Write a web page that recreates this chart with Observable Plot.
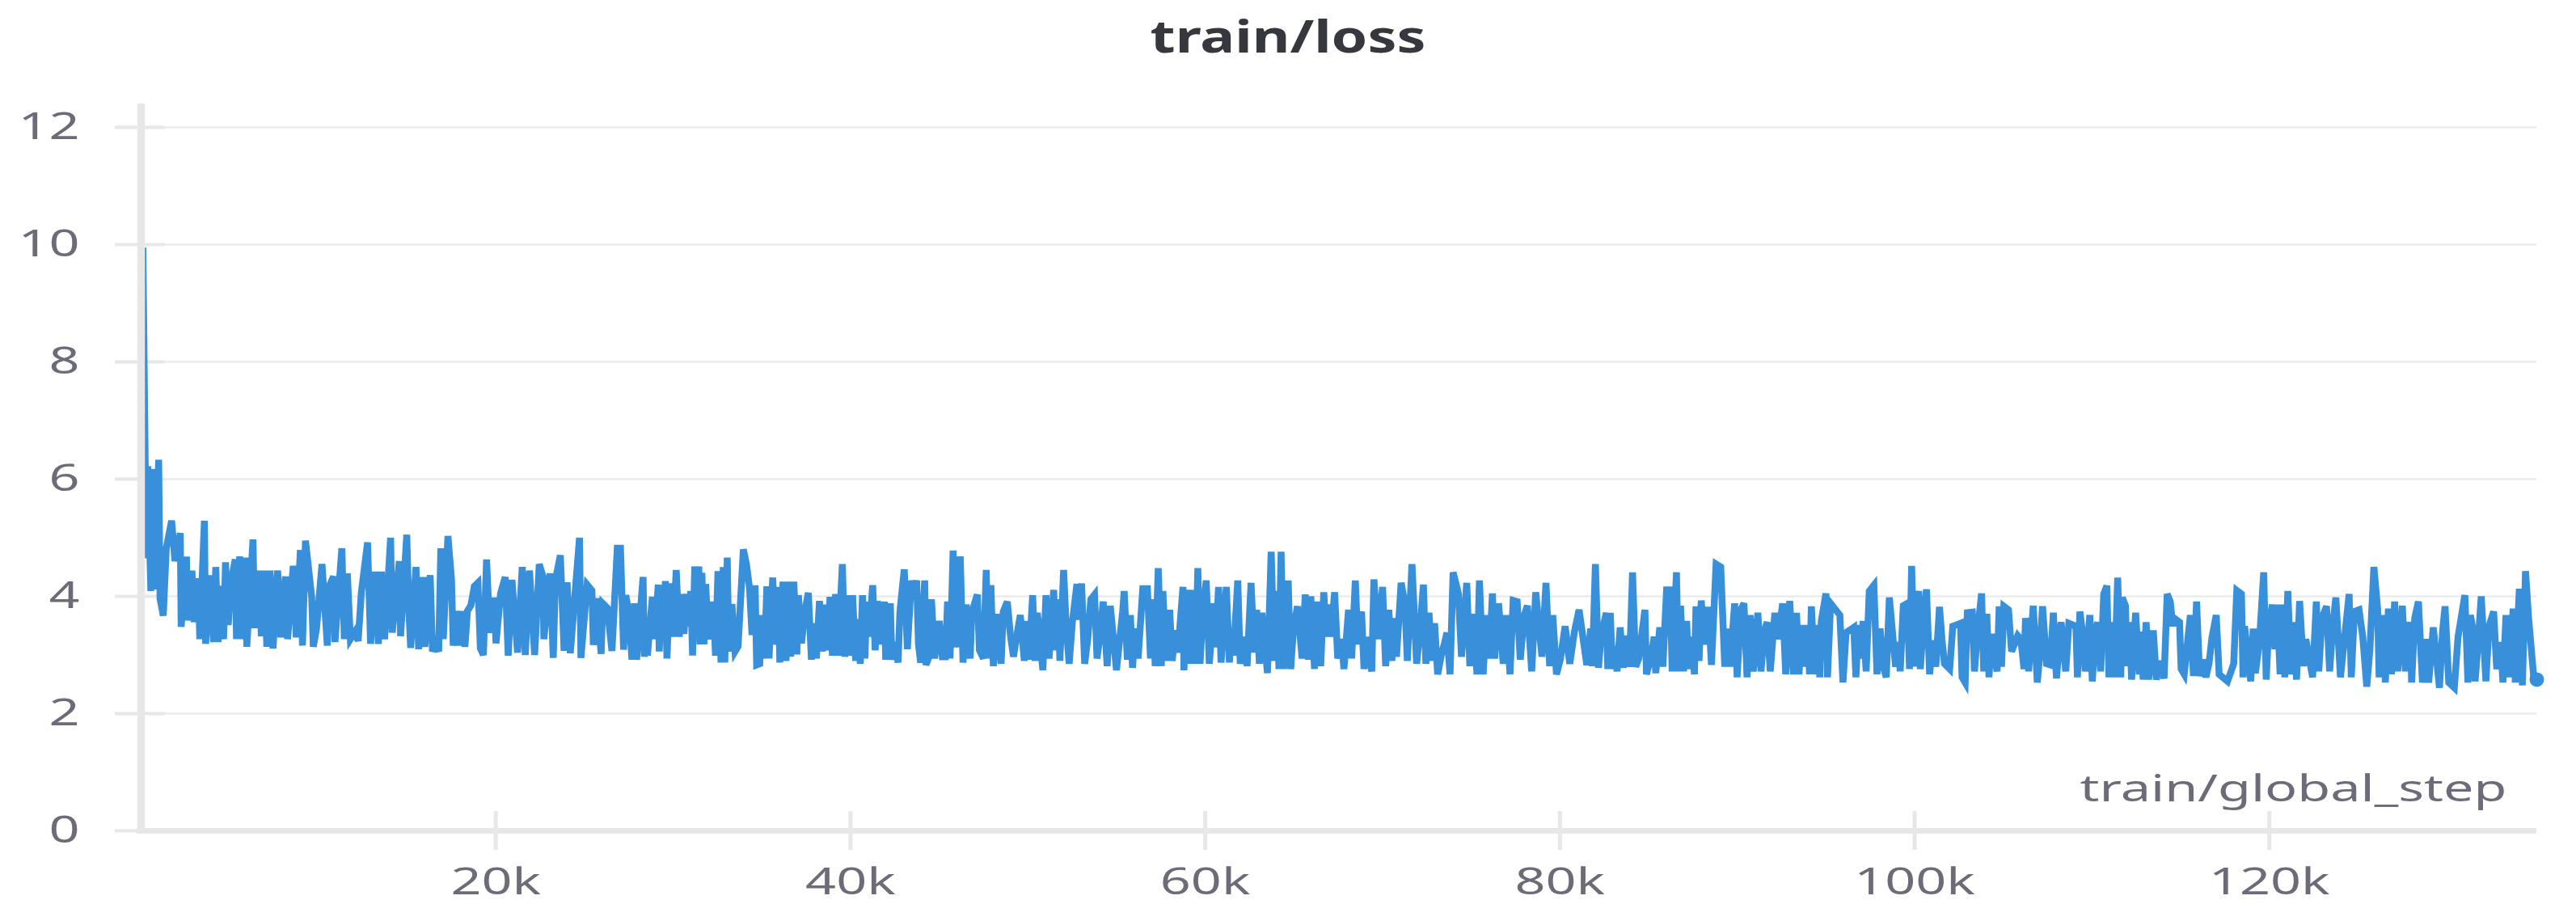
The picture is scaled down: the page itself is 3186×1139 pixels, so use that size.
<!DOCTYPE html>
<html>
<head>
<meta charset="utf-8">
<script src="https://cdn.jsdelivr.net/npm/d3@7"></script>
<script src="https://cdn.jsdelivr.net/npm/@observablehq/plot@0.6"></script>
<style>
html, body { margin: 0; padding: 0; background: #fff; }
#wrap { position: relative; width: 3186px; height: 1139px; overflow: hidden; background: #fff; }
#title { position: absolute; left: 0; top: 0; width: 3186px; height: 100px; }
#title span { position: absolute; left: 1593px; top: 15px; font-family: "Noto Sans", sans-serif; font-weight: 700; font-size: 56px; line-height: 1; color: #36383d; white-space: nowrap; transform-origin: 50% 50%; }
#chart { position: absolute; left: 0; top: 100px; }
</style>
</head>
<body>
<div id="wrap">
  <div id="title"><span>train/loss</span></div>
  <div id="chart"></div>
</div>
<script>
const titleText = "train/loss";
const axisLabel = "train/global_step";
const yTicks = [0, 2, 4, 6, 8, 10, 12];
const xTicks = [20000, 40000, 60000, 80000, 100000, 120000];
const xTickLabels = ["20k", "40k", "60k", "80k", "100k", "120k"];

// [train/global_step, train/loss], segment by segment
const loss0to27k = [
[100,9.95],[290,4.65],[375,6.22],[550,4.09],[670,6.17],[780,4.12],[990,6.33],[1070,3.96],[1250,3.67],[1420,4.82],
[1720,5.29],[1910,4.60],[2210,5.08],[2260,3.48],[2560,4.68],[2590,3.59],[2870,4.44],[2990,3.56],[3220,4.31],[3310,3.27],
[3570,5.29],[3640,3.19],[3870,4.36],[4090,3.22],[4210,4.50],[4340,3.22],[4480,4.18],[4650,3.27],[4760,4.58],[4910,3.51],
[5090,4.28],[5310,4.63],[5380,3.27],[5560,4.68],[5660,3.27],[5870,4.66],[5960,3.14],[6310,4.97],[6400,3.46],[6660,4.44],
[6780,3.32],[6950,4.44],[7090,3.14],[7270,4.44],[7440,3.11],[7700,4.44],[7880,3.30],[8140,4.34],[8260,3.27],[8580,4.52],
[8750,3.30],[8980,4.79],[9100,3.16],[9270,4.95],[9620,3.99],[9710,3.14],[9890,3.45],[10200,4.55],[10500,3.16],[10620,4.18],
[10850,4.34],[10930,3.22],[11320,4.82],[11460,3.27],[11630,4.39],[11800,3.27],[12070,3.40],[12240,3.24],[12420,4.07],[12770,4.92],
[12940,3.19],[13200,4.42],[13380,3.19],[13550,4.42],[13730,3.27],[14070,5.00],[14160,3.38],[14560,4.60],[14630,3.32],[14980,5.05],
[15090,3.83],[15200,3.12],[15500,4.50],[15650,3.10],[15900,4.33],[16000,3.14],[16300,4.36],[16430,3.06],[16600,3.18],[16780,3.06],
[16900,4.82],[17040,3.27],[17300,5.03],[17500,4.30],[17600,3.16],[17820,3.75],[18000,3.16],[18090,3.75],[18260,3.14],[18400,3.75],
[18600,3.85],[18790,4.17],[18990,4.23],[19130,3.11],[19300,3.00],[19480,4.63],[19660,3.38],[19920,3.98],[20010,3.20],[20270,4.05],
[20530,4.33],[20700,2.99],[20910,4.28],[21230,3.04],[21490,4.50],[21660,3.00],[21900,4.44],[22190,3.00],[22450,4.55],[22660,4.34],
[22710,3.27],[23060,4.39],[23240,2.95],[23360,4.28],[23640,4.70],[23850,3.07],[24020,4.24],[24200,3.03],[24720,5.00],[24800,2.95],
[25150,4.20],[25420,4.10],[25500,3.17],[25680,3.97],[25940,3.02],[26030,3.88],[26290,3.80],[26550,3.07],[26850,4.82]
];
const loss27to54k = [
[27030,4.82],[27206,3.09],[27328,4.02],[27502,3.72],[27677,2.92],[27816,3.88],[27939,2.92],[28305,4.33],[28375,2.97],[28480,3.54],
[28549,2.99],[28828,3.99],[28950,3.27],[29160,4.20],[29212,3.06],[29387,4.13],[29474,3.27],[29561,4.26],[29648,2.94],[29823,4.22],
[29997,3.31],[30172,4.45],[30346,3.31],[30521,4.04],[30608,3.36],[30748,4.04],[30870,3.49],[30992,4.09],[31096,2.99],[31218,4.51],
[31341,3.60],[31445,4.51],[31515,3.18],[31620,4.40],[31742,3.18],[31829,4.21],[32004,3.27],[32265,3.91],[32387,2.99],[32527,4.43],
[32701,2.87],[32824,4.50],[32911,2.87],[33050,4.66],[33138,3.06],[33312,3.87],[33487,3.06],[33661,3.15],[33958,4.80],[34132,4.55],
[34307,4.14],[34447,3.34],[34621,4.19],[34708,2.83],[34883,2.85],[34970,3.68],[35144,2.94],[35284,4.17],[35406,2.94],[35615,4.32],
[35720,3.52],[35842,3.18],[35929,4.16],[36016,2.87],[36191,4.25],[36365,2.90],[36505,4.25],[36627,2.97],[36802,4.25],[36976,3.01],
[37063,4.02],[37238,3.20],[37412,3.72],[37622,4.06],[37796,2.92],[37936,3.54],[38075,2.94],[38250,3.92],[38424,3.06],[38546,3.86],
[38721,3.08],[38843,3.99],[38982,2.99],[39157,4.04],[39296,2.99],[39541,4.55],[39680,2.97],[39855,4.02],[39995,2.99],[40117,4.02],
[40291,2.90],[40378,3.61],[40553,2.85],[40675,4.02],[40815,2.94],[40902,3.91],[41041,3.31],[41251,4.19],[41390,3.08],[41512,3.92],
[41739,3.18],[41914,3.91],[41983,2.92],[42245,3.88],[42332,2.92],[42507,3.22],[42681,2.87],[42786,3.74],[43030,4.46],[43205,3.10],
[43431,4.27],[43550,4.05],[43728,4.27],[43833,3.18],[43955,2.87],[44182,4.27],[44251,2.83],[44391,2.94],[44565,3.95],[44740,2.94],
[45002,3.58],[45176,2.97],[45351,2.97],[45473,3.91],[45613,2.94],[45787,4.78],[45927,3.13],[46188,4.68],[46345,2.87],[46520,3.86],
[46747,2.94],[46834,3.72],[47148,4.03],[47270,3.08],[47497,2.94],[47654,4.45],[47741,2.94],[47915,4.19],[48055,2.81],[48264,3.70],
[48491,2.85],[48613,3.74],[48840,3.91],[49015,3.34],[49189,2.97],[49364,3.31],[49573,3.68],[49800,2.90],[49922,3.58],[50062,2.92],
[50271,4.02],[50411,2.90],[50533,3.72],[50847,2.74],[51021,4.02],[51196,2.94],[51458,4.11],[51545,3.08],[51719,3.95],[51806,2.90],
[52016,4.45],[52155,3.52],[52330,2.85],[52504,3.54],[52766,4.21],[52900,3.60],[53028,4.22],[53202,2.85],[53377,3.27],[53551,3.95],
[53761,4.03],[53900,2.94],[54075,3.36],[54249,3.91]
];
const loss54to82k = [
[54472,2.81],[54647,3.84],[54996,2.74],[55345,3.74],[55432,4.09],[55607,2.92],[55781,3.68],[55903,2.78],[56043,3.45],[56217,2.94],
[56479,4.13],[56741,4.13],[56915,2.94],[57090,3.95],[57177,2.81],[57352,4.48],[57526,2.81],[57613,4.09],[57788,2.90],[57997,3.77],
[58137,2.90],[58311,3.42],[58486,3.04],[58573,3.49],[58747,4.16],[58799,2.74],[59009,4.11],[59183,2.85],[59271,4.11],[59445,2.85],
[59585,4.48],[59707,2.85],[59846,3.63],[60056,4.27],[60230,2.85],[60492,3.88],[60579,3.13],[60754,4.16],[60893,2.87],[61190,4.16],
[61364,2.87],[61451,3.45],[61591,2.99],[61835,4.27],[61975,2.85],[62236,3.31],[62359,2.81],[62585,4.23],[62760,3.04],[62899,3.77],
[63056,2.85],[63196,3.72],[63510,2.69],[63719,4.76],[63894,2.90],[64034,4.09],[64156,2.76],[64278,4.76],[64417,2.76],[64679,4.27],
[64819,2.76],[64976,3.45],[65202,3.83],[65464,2.94],[65639,4.03],[65813,2.92],[65953,4.00],[66162,2.76],[66336,3.91],[66511,2.81],
[66685,4.07],[66825,3.31],[66947,3.86],[67087,3.31],[67296,4.07],[67471,2.94],[67697,3.27],[67820,2.76],[68081,3.77],[68256,2.94],
[68465,4.27],[68605,3.18],[68814,3.74],[68954,2.76],[69093,3.31],[69390,2.72],[69512,4.29],[69738,3.27],[70000,4.16],[70175,2.81],
[70349,3.77],[70524,2.90],[70698,3.63],[70785,2.97],[71047,4.23],[71257,3.88],[71396,2.90],[71658,4.55],[71920,2.85],[72094,3.36],
[72303,4.20],[72443,2.85],[72617,3.72],[72792,2.90],[72932,3.54],[73106,2.67],[73315,3.00],[73490,3.20],[73629,3.38],[73804,2.67],
[73978,4.41],[74275,4.05],[74450,2.97],[74746,4.23],[74921,2.81],[75148,3.70],[75322,2.67],[75462,4.27],[75671,2.67],[75846,3.68],
[76020,2.94],[76195,4.05],[76317,2.94],[76542,3.88],[76804,2.85],[76979,3.68],[77187,2.67],[77363,3.93],[77589,3.91],[77763,2.92],
[77991,3.68],[78165,3.84],[78409,2.72],[78636,4.07],[78985,2.97],[79213,4.23],[79422,2.81],[79597,3.68],[79806,2.67],[80033,2.94],
[80294,3.49],[80556,2.85],[80818,3.40],[81080,3.77],[81515,2.83]
];
const loss82to109k = [
[81739,3.45],[81826,2.81],[82001,4.55],[82175,2.78],[82315,3.31],[82612,3.72],[82699,2.76],[82838,3.72],[82960,2.76],[83047,3.15],
[83222,2.72],[83396,3.47],[83571,2.78],[83746,3.33],[83920,2.80],[84095,4.41],[84269,2.80],[84444,2.94],[84792,3.77],[84880,2.67],
[85141,2.97],[85316,3.31],[85403,2.69],[85630,3.47],[85804,2.80],[86014,4.11],[86222,4.11],[86328,2.72],[86572,4.41],[86677,2.72],
[86799,3.84],[86973,2.72],[87148,3.58],[87235,2.76],[87410,3.31],[87584,2.67],[87671,3.83],[87846,2.90],[87969,3.93],[88143,3.18],
[88369,3.82],[88544,2.83],[88805,4.55],[89067,4.50],[89294,2.80],[89416,3.45],[89590,2.80],[89852,3.88],[89992,2.62],[90201,3.77],
[90376,3.88],[90551,2.62],[90725,3.68],[90900,2.72],[91161,3.72],[91336,2.72],[91510,3.40],[91684,3.56],[91859,2.72],[92120,3.72],
[92295,3.27],[92557,3.88],[92731,2.67],[92958,3.92],[93168,2.67],[93341,3.72],[93481,2.67],[93656,3.51],[93778,2.80],[93952,3.51],
[94074,2.67],[94179,3.83],[94353,2.67],[94528,3.51],[94650,2.62],[94737,3.58],[95000,4.05],[95086,2.62],[95261,3.88],[95784,3.68],
[95959,2.53],[96133,3.38],[96569,3.47],[96691,2.62],[96830,3.51],[97005,2.94],[97092,3.58],[97267,2.72],[97441,4.09],[97703,4.19],
[97877,2.67],[98052,3.45],[98226,2.80],[98401,2.62],[98575,3.98],[98925,2.80],[99064,3.22],[99186,2.72],[99361,3.84],[99588,3.88],
[99710,2.76],[99832,4.52],[99972,2.80],[100059,3.82],[100234,4.09],[100320,2.76],[100495,3.56],[100669,4.12],[100844,2.67],[101018,3.25],
[101193,2.80],[101402,3.82],[101541,3.27],[101681,2.85],[101977,2.76],[102152,3.49],[102588,3.54],[102675,2.62],[102850,2.53],[102972,3.72],
[103251,3.73],[103373,2.72],[103548,3.40],[103775,4.05],[103897,2.72],[104071,3.70],[104193,2.62],[104333,3.36],[104647,2.72],[104769,3.83],
[104900,2.80],[105031,3.83],[105292,3.77],[105467,3.06],[105816,3.33],[105991,3.27],[106165,2.76],[106253,3.63],[106427,2.72],[106689,3.84],
[106916,2.53],[107038,2.94],[107212,3.83],[107439,2.85],[107648,2.83],[107823,3.72],[107997,2.60],[108259,3.56],[108521,2.72],[108695,3.54]
];
const loss109to135k = [
[109093,3.49],[109180,2.62],[109320,3.74],[109529,3.22],[109617,2.72],[109878,3.68],[110018,2.55],[110192,3.40],[110315,3.56],[110489,2.72],
[110663,4.04],[110838,4.18],[110960,2.62],[111100,3.56],[111274,2.62],[111449,4.32],[111623,2.62],[111710,3.98],[111885,3.84],[111972,2.81],
[112112,3.56],[112234,2.58],[112460,3.72],[112670,2.67],[112810,3.40],[112880,2.58],[113054,3.56],[113193,2.58],[113455,3.42],[113630,2.58],
[113804,2.90],[114066,2.60],[114240,4.04],[114415,3.91],[114554,3.49],[114624,3.63],[114938,3.56],[115026,2.76],[115200,2.67],[115549,3.68],
[115723,2.64],[115898,3.91],[116072,2.64],[116247,2.92],[116421,2.62],[116596,2.85],[116770,3.31],[117005,3.68],[117171,2.67],[117642,2.55],
[117991,2.85],[118166,4.10],[118428,4.04],[118515,2.62],[118602,3.49],[118951,2.55],[119091,3.45],[119213,2.69],[119439,3.22],[119684,4.41],
[119824,2.58],[119963,3.49],[120172,3.86],[120312,3.10],[120434,3.86],[120608,2.67],[120730,3.86],[120870,2.62],[121044,4.09],[121219,2.67],
[121393,3.56],[121533,2.58],[121707,3.92],[121917,2.81],[122056,3.27],[122440,2.62],[122650,3.91],[122789,2.72],[122964,3.63],[123225,3.83],
[123400,2.72],[123574,3.49],[123749,3.98],[124010,2.62],[124499,4.04],[124621,2.62],[124796,3.74],[125057,3.77],[125267,3.31],[125494,2.46],
[125668,3.08],[125895,4.50],[126104,3.79],[126191,2.62],[126418,3.68],[126540,2.53],[126715,3.79],[126889,2.67],[127064,3.91],[127238,2.72],
[127500,3.84],[127674,2.72],[127814,3.31],[127936,3.56],[128023,2.53],[128198,3.63],[128407,3.91],[128633,2.53],[128808,3.27],[128982,2.53],
[129244,3.47],[129593,2.44],[129767,3.40],[129907,3.83],[130117,2.53],[130430,2.44],[130640,3.31],[131024,4.02],[131198,2.53],[131338,3.68],
[131513,3.38],[131600,2.55],[131774,3.22],[131949,4.00],[132210,2.55],[132385,3.49],[132647,3.74],[132821,2.76],[133048,3.22],[133170,2.53],
[133344,3.68],[133519,2.62],[133746,3.79],[133868,2.53],[134095,4.13],[134269,2.48],[134444,4.43],[134618,3.63],[134915,2.60],[135080,2.58]
];

const blue = "#388fda";
const grid = "#e7e7ea";
const tickText = "#6b6c77";

const data = [...loss0to27k, ...loss27to54k, ...loss54to82k, ...loss82to109k, ...loss109to135k]
  .map(([step, loss]) => ({step, loss}));
const last = data[data.length - 1];
const yTop = 12.4;

const chart = Plot.plot({
  width: 3186,
  height: 1039,
  marginLeft: 174,
  marginRight: 49,
  marginTop: 28,
  marginBottom: 112,
  x: {domain: [0, last.step], axis: null},
  y: {domain: [0, yTop], axis: null},
  style: {background: "transparent", fontFamily: "'Noto Sans', sans-serif", overflow: "visible"},
  marks: [
    Plot.ruleY(yTicks.filter(d => d > 0), {y: d => d, x1: 0, x2: last.step, stroke: grid, strokeWidth: 2}),
    Plot.ruleY(yTicks, {y: d => d, x1: 0, x2: 0, insetLeft: -32, insetRight: -30, stroke: grid, strokeWidth: 4}),
    Plot.ruleX(xTicks, {x: d => d, y1: 0, y2: 0, insetTop: -24, insetBottom: -24, stroke: grid, strokeWidth: 5}),
    Plot.line(data, {x: "step", y: "loss", stroke: blue, strokeWidth: 8.5, strokeLinejoin: "miter", strokeLinecap: "butt", strokeMiterlimit: 4}),
    Plot.dot([last], {x: "step", y: "loss", r: 9, fill: blue}),
    Plot.ruleY([0], {x1: 0, x2: last.step, insetLeft: -5, stroke: grid, strokeWidth: 7}),
    Plot.ruleX([0], {y1: 0, y2: yTop, stroke: grid, strokeWidth: 9.5}),
    Plot.text(yTicks, {y: d => d, text: d => String(d), frameAnchor: "left", textAnchor: "end", dx: -76, fill: tickText, fontSize: 46}),
    Plot.text(xTicks, {x: d => d, text: (d, i) => xTickLabels[i], frameAnchor: "bottom", dy: 78, fill: tickText, fontSize: 46}),
    Plot.text([axisLabel], {text: d => d, frameAnchor: "bottom-right", textAnchor: "end", dx: -37, dy: -37, fill: tickText, fontSize: 46})
  ]
});
document.getElementById("chart").append(chart);

// the reference's lettering is drawn wide: match its measured width
const texts = Array.from(chart.querySelectorAll("text"));
const lab = texts.find(t => t.textContent === axisLabel);
const sx = lab ? 528 / lab.getBBox().width : 1.38;
texts.forEach(t => {
  const tr = t.getAttribute("transform") || "";
  t.setAttribute("transform", tr + ` scale(${sx},1)`);
});

const span = document.querySelector("#title span");
span.textContent = titleText;
const tw = span.getBoundingClientRect().width;
span.style.transform = `translateX(-50%) scaleX(${341 / tw})`;
</script>
</body>
</html>
